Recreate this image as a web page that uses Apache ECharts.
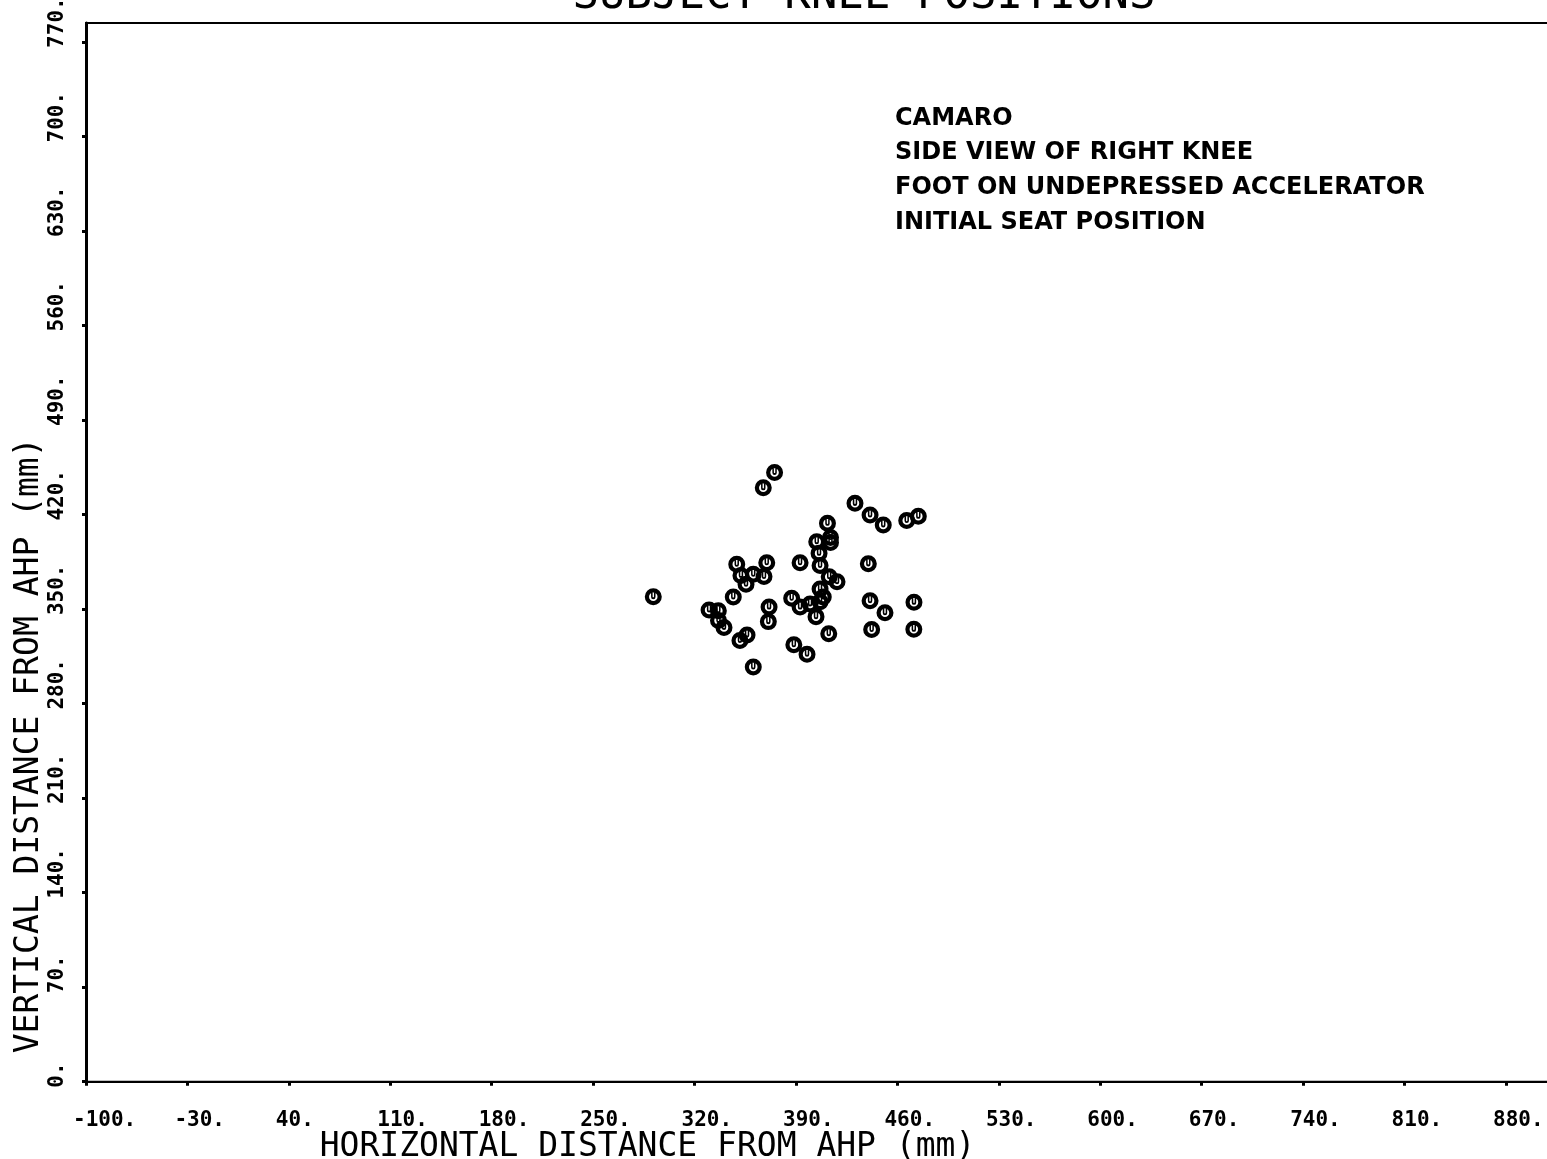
<!DOCTYPE html>
<html>
<head>
<meta charset="utf-8">
<script src="https://cdn.jsdelivr.net/npm/echarts@6/dist/echarts.min.js"></script>
<style>
html,body{margin:0;padding:0;background:#fff;}
#chart{width:1547px;height:1159px;}
</style>
</head>
<body>
<div id="chart"></div>
<script>
// ---- data (mm from AHP) ----
var kneeX = [291.5, 367.4, 375.2, 430.7, 441.1, 450.2, 466.4, 474.4, 411.7, 413.8, 413.8, 404.3, 405.9, 406.6, 392.8, 439.9, 349.1, 369.8, 352.0, 360.5, 367.9, 355.5, 412.9, 418.3, 346.7, 387.0, 392.8, 399.7, 406.6, 408.8, 406.6, 403.8, 441.1, 451.4, 471.4, 330.0, 336.4, 336.5, 340.3, 371.4, 370.9, 356.2, 351.3, 412.6, 442.2, 471.3, 388.5, 397.6, 360.5];
var kneeY = [359.2, 439.8, 451.2, 428.3, 419.7, 412.3, 415.6, 418.7, 413.5, 403.0, 399.3, 399.9, 391.3, 382.3, 384.3, 383.5, 383.2, 384.3, 374.9, 375.8, 374.1, 368.4, 374.0, 370.3, 359.0, 358.0, 351.5, 353.8, 364.9, 359.0, 355.5, 344.4, 356.2, 347.3, 355.0, 349.3, 348.8, 341.6, 336.4, 351.5, 340.7, 330.8, 326.7, 331.8, 334.9, 335.0, 323.6, 316.6, 307.1];
var xTickStart = -100, xTickStep = 70;   // -100. ... 880.
var yTickStart = 0, yTickStep = 70;      // 0. ... 770.
var titleText = 'SUBJECT KNEE POSITIONS';
var xName = 'HORIZONTAL DISTANCE FROM AHP (mm)';
var yName = 'VERTICAL DISTANCE FROM AHP (mm)';
var noteLines = ['CAMARO', 'SIDE VIEW OF RIGHT KNEE', 'FOOT ON UNDEPRESSED ACCELERATOR', 'INITIAL SEAT POSITION'];

var points = kneeX.map(function (x, i) { return [x, kneeY[i]]; });

var markerPath = 'path://M0 50 A50 50 0 1 1 100 50 A50 50 0 1 1 0 50 Z ' +
  'M25 50 A25 25 0 1 0 75 50 A25 25 0 1 0 25 50 Z ' +
  'M37 25 L46 25 L46 50 A4 4 0 0 0 54 50 L54 25 L63 25 L63 52 A13 13 0 0 1 37 52 Z';

var chart = echarts.init(document.getElementById('chart'), null, {renderer: 'canvas'});
var mono = '"DejaVu Sans Mono"';
chart.setOption({
  backgroundColor: '#ffffff',
  animation: false,
  title: {
    text: titleText,
    left: 859,
    textAlign: 'center',
    top: -30,
    textStyle: {fontFamily: mono, fontSize: 44, fontWeight: 'normal', color: '#000'}
  },
  grid: {
    left: 86, right: -17, top: 23, bottom: 77.3,
    outerBoundsMode: 'none',
    containLabel: false,
    show: true, borderColor: '#000', borderWidth: 2, backgroundColor: 'transparent'
  },
  xAxis: {
    type: 'value',
    min: -100, max: 920, interval: xTickStep,
    name: xName,
    nameLocation: 'middle',
    nameMoveOverlap: false,
    nameGap: 49,
    nameTextStyle: {fontFamily: mono, fontSize: 33, color: '#000', padding: [0, 355, 0, 0]},
    axisLine: {show: true, onZero: false, lineStyle: {color: '#000', width: 2}},
    axisTick: {show: true, length: 4, lineStyle: {color: '#000', width: 3}},
    splitLine: {show: false},
    axisLabel: {
      show: true, showMaxLabel: false,
      margin: 28,
      align: 'left',
      padding: [0, 0, 0, -13],
      fontFamily: mono, fontSize: 21, fontWeight: 'bold', color: '#000',
      formatter: function (v) { return v + '.'; }
    }
  },
  yAxis: {
    type: 'value',
    min: 0, max: 784, interval: yTickStep,
    name: yName,
    nameLocation: 'middle',
    nameMoveOverlap: false,
    nameGap: 40,
    nameRotate: 90,
    nameTextStyle: {fontFamily: mono, fontSize: 33, color: '#000', padding: [0, 386, 0, 0]},
    axisLine: {show: true, onZero: false, lineStyle: {color: '#000', width: 3}},
    axisTick: {show: true, length: 4, lineStyle: {color: '#000', width: 3}},
    splitLine: {show: false},
    axisLabel: {
      show: true, showMaxLabel: false,
      rotate: 90,
      margin: 18,
      align: 'left',
      verticalAlign: 'bottom',
      padding: [0, 0, 0, -6],
      fontFamily: mono, fontSize: 21, fontWeight: 'bold', color: '#000',
      formatter: function (v) { return v + '.'; }
    }
  },
  graphic: [{
    type: 'text',
    x: 895, y: 101,
    style: {
      text: noteLines.join('\n'),
      font: 'bold 24px "DejaVu Sans"',
      fill: '#000',
      lineHeight: 34.7,
      verticalAlign: 'top'
    }
  }],
  series: [{
    type: 'scatter',
    data: points,
    symbol: markerPath,
    symbolSize: 17,
    itemStyle: {color: '#000', opacity: 1},
    emphasis: {disabled: true}
  }]
});
</script>
</body>
</html>
